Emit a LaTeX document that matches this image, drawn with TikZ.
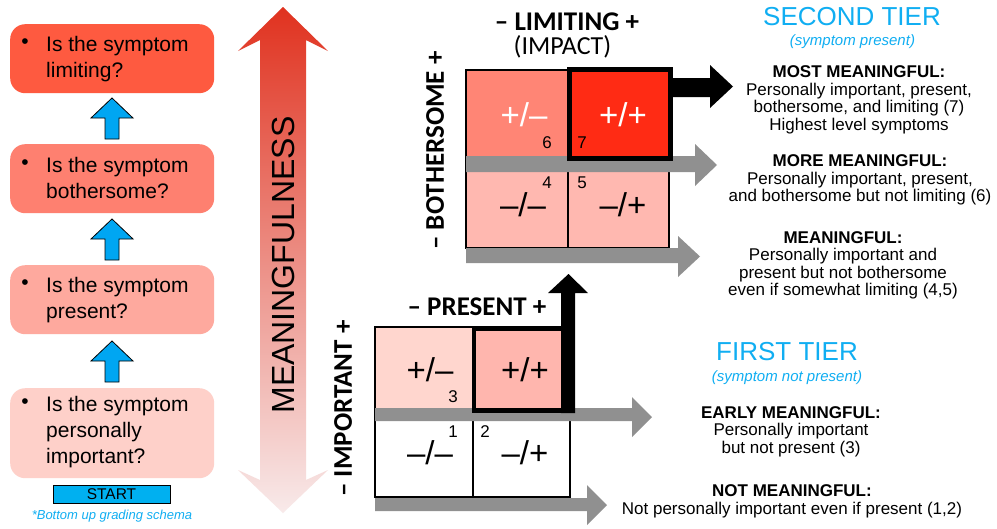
\documentclass[tikz,border=0pt]{standalone}
\usepackage{fontspec}
\setmainfont{Liberation Sans}
\newfontfamily\calibfont{Carlito}
\definecolor{boxA}{HTML}{FE5A40}
\definecolor{boxB}{HTML}{FE8070}
\definecolor{boxC}{HTML}{FEA99E}
\definecolor{boxD}{HTML}{FED0C9}
\definecolor{upblue}{HTML}{00A6F2}
\definecolor{startblue}{HTML}{00B0F0}
\definecolor{tierblue}{HTML}{10AEF2}
\definecolor{arrgray}{HTML}{909090}
\definecolor{cellTL}{HTML}{FF8575}
\definecolor{cellTR}{HTML}{FF2B14}
\definecolor{cellB}{HTML}{FFB8B0}
\definecolor{lowTL}{HTML}{FFD6CE}
\definecolor{lowTR}{HTML}{FFB6AE}
\definecolor{mtop}{HTML}{E0321F}
\definecolor{mmid}{HTML}{EC8282}
\definecolor{mbot}{HTML}{F8EAEA}
\begin{document}
\begin{tikzpicture}[x=1pt,y=-1pt]
\tikzset{
 qbox/.style={rounded corners=15pt, inner sep=0pt, minimum width=204pt, anchor=north west},
 qtext/.style={anchor=west, align=left, inner sep=0pt, font=\fontsize{21}{26}\selectfont},
 qbullet/.style={inner sep=0pt, font=\fontsize{21}{26}\selectfont},
 upar/.style={fill=upblue, draw=black, line width=0.8pt, line join=miter},
 grayar/.style={fill=arrgray, draw=none},
 blackar/.style={fill=black, draw=none},
 cellbox/.style={draw=none, inner sep=0pt, anchor=north west},
 gridline/.style={draw=black, line width=2.5pt},
 thickbox/.style={draw=black, line width=4.5pt},
 sign/.style={font=\fontsize{33}{33}\selectfont, inner sep=0pt},
 num/.style={font=\fontsize{17}{17}\selectfont, inner sep=0pt},
 axislab/.style={font=\calibfont\bfseries\fontsize{27}{27}\selectfont, inner sep=0pt},
 axissub/.style={font=\calibfont\fontsize{26}{26}\selectfont, inner sep=0pt},
 tier/.style={text=tierblue, font=\fontsize{26}{26}\selectfont, inner sep=0pt},
 tiersub/.style={text=tierblue, font=\itshape\fontsize{15}{15}\selectfont, inner sep=0pt},
 desc/.style={align=center, font=\fontsize{17}{17.5}\selectfont, inner sep=0pt},
}
\useasboundingbox[fill=white] (0,0) rectangle (997,528);

% ---------- left question boxes ----------
\node[qbox, fill=boxA, minimum height=69pt] (q4) at (10,24) {};
\node[qbox, fill=boxB, minimum height=69pt] (q3) at (10,144) {};
\node[qbox, fill=boxC, minimum height=69pt] (q2) at (10,265) {};
\node[qbox, fill=boxD, minimum height=90pt] (q1) at (10,388) {};

\node[qbullet] (b4) at (25,44) {\textbullet};
\node[qtext] (t4) at (46,59.2) {Is the symptom\\limiting?};
\node[qbullet] (b3) at (25,165) {\textbullet};
\node[qtext] (t3) at (46,177.5) {Is the symptom\\bothersome?};
\node[qbullet] (b2) at (25,285) {\textbullet};
\node[qtext] (t2) at (46,299.7) {Is the symptom\\present?};
\node[qbullet] (b1) at (25,404) {\textbullet};
\node[qtext] (t1) at (46,432.2) {Is the symptom\\personally\\important?};

% blue up arrows
\foreach \ty in {98,219,341}{
  \draw[upar] (105,\ty+41) -- (105,\ty+20) -- (91,\ty+20) -- (112,\ty) -- (133,\ty+20) -- (119,\ty+20) -- (119,\ty+41) -- cycle;
}

\node[draw=black, line width=0.8pt, fill=startblue, minimum width=117pt, minimum height=18pt, inner sep=0pt, font=\fontsize{15.5}{15.5}\selectfont] (start) at (111.5,494) {START};
\node[text=tierblue, font=\itshape\fontsize{13}{13}\selectfont, inner sep=0pt] (note) at (112,516) {*Bottom up grading schema};

% ---------- meaningfulness double arrow ----------
\shade[top color=mtop, middle color=mmid, bottom color=mbot]
  (283,7) -- (328,51) -- (306,40) -- (306,480) -- (328,470) -- (283,513) -- (238,470) -- (260,480) -- (260,40) -- (238,51) -- cycle;
\node[rotate=90, font=\fontsize{32}{32}\selectfont, inner sep=0pt] (mf) at (283,265) {MEANINGFULNESS};

% ---------- top grid (second tier) ----------
\node[cellbox, fill=cellTL, minimum width=102pt, minimum height=93pt] (c6) at (466,70) {};
\node[cellbox, fill=cellTR, minimum width=101pt, minimum height=93pt] (c7) at (568,70) {};
\node[cellbox, fill=cellB, minimum width=102pt, minimum height=85pt] (c4) at (466,163) {};
\node[cellbox, fill=cellB, minimum width=101pt, minimum height=85pt] (c5) at (568,163) {};
\draw[gridline] (466,70) rectangle (669,248);
\draw[gridline] (568,70) -- (568,248);

\fill[grayar] (466,156) -- (695,156) -- (695,144) -- (717,165) -- (695,186) -- (695,172) -- (466,172) -- cycle;
\fill[grayar] (466,248) -- (678,248) -- (678,236) -- (700,256.5) -- (678,277) -- (678,263) -- (466,263) -- cycle;

\draw[thickbox] (569.5,69.5) rectangle (670.5,158.5);
\fill[blackar] (671,78) -- (710,78) -- (710,65) -- (733,86.5) -- (710,108) -- (710,97) -- (671,97) -- cycle;

\node[sign, text=white] (s6) at (524,115) {+/–};
\node[sign, text=white] (s7) at (623,115) {+/+};
\node[sign] (s4) at (523,205) {–/–};
\node[sign] (s5) at (623,205) {–/+};
\node[num] (n6) at (547,143) {6};
\node[num] (n7) at (582,143) {7};
\node[num] (n4) at (547,183) {4};
\node[num] (n5) at (582,183) {5};

\node[axislab] (limlab) at (567,22) {– LIMITING +};
\node[axissub] (implab) at (562.5,47) {(IMPACT)};
\node[axislab, rotate=90] (botlab) at (435,150.5) {– BOTHERSOME +};

% ---------- bottom grid (first tier) ----------
\node[cellbox, fill=lowTL, minimum width=98pt, minimum height=88pt] (c3) at (375,327) {};
\node[cellbox, fill=lowTR, minimum width=98pt, minimum height=88pt] (cp) at (473,327) {};
\draw[gridline] (375,327) rectangle (570,497);
\draw[gridline] (473,327) -- (473,497);

\fill[grayar] (375,408) -- (632,408) -- (632,397) -- (652,417) -- (632,437) -- (632,421) -- (375,421) -- cycle;
\fill[grayar] (375,498) -- (587,498) -- (587,485) -- (607,505) -- (587,525) -- (587,511) -- (375,511) -- cycle;

\draw[thickbox] (474,329) -- (474,410.5) -- (568,410.5);
\draw[thickbox] (474,329) -- (562,329);
\fill[blackar] (561,413) -- (561,293) -- (548,293) -- (568.5,274) -- (588,293) -- (575,293) -- (575,413) -- cycle;

\node[sign] (s3) at (430,370) {+/–};
\node[sign] (sp) at (525,370) {+/+};
\node[sign] (s1) at (430,453) {–/–};
\node[sign] (s2) at (525,453) {–/+};
\node[num] (n3) at (453,397) {3};
\node[num] (n1) at (453,432) {1};
\node[num] (n2) at (485,432) {2};

\node[axislab] (prelab) at (477,307) {– PRESENT +};
\node[axislab, rotate=90] (implab2) at (343,408.5) {– IMPORTANT +};

% ---------- right texts ----------
\node[tier] (t2tier) at (852,17) {SECOND TIER};
\node[tiersub] (t2sub) at (852.5,42) {(symptom present)};
\node[desc] (d7) at (859,99.8) {\textbf{MOST MEANINGFUL:}\\Personally important, present,\\bothersome, and limiting (7)\\Highest level symptoms};
\node[desc] (d6) at (860,180.3) {\textbf{MORE MEANINGFUL:}\\Personally important, present,\\and bothersome but not limiting (6)};
\node[desc] (d45) at (843,265.3) {\textbf{MEANINGFUL:}\\Personally important and\\present but not bothersome\\even if somewhat limiting (4,5)};

\node[tier] (t1tier) at (787,352) {FIRST TIER};
\node[tiersub] (t1sub) at (787,378) {(symptom not present)};
\node[desc] (d3) at (791,431.8) {\textbf{EARLY MEANINGFUL:}\\Personally important\\but not present (3)};
\node[desc] (d12) at (792,501.3) {\textbf{NOT MEANINGFUL:}\\Not personally important even if present (1,2)};
\end{tikzpicture}
\end{document}
